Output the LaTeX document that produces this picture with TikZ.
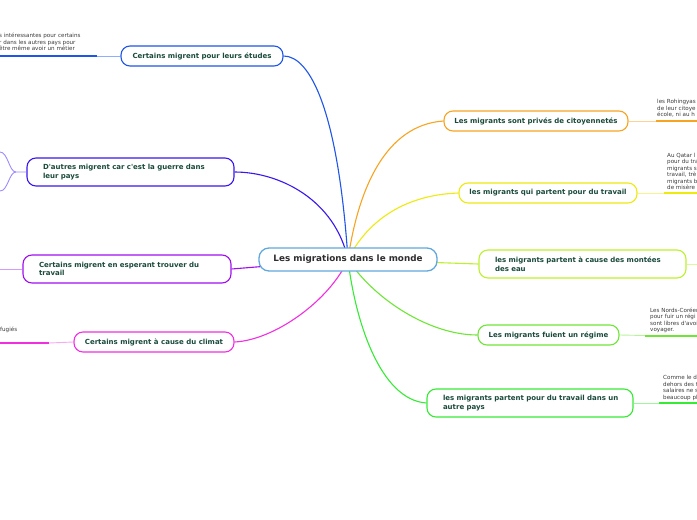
\documentclass[tikz,border=0pt]{standalone}
\usepackage{fontspec}
\setmainfont{DejaVu Sans}[Ligatures=TeXOff]
\usetikzlibrary{backgrounds}
\definecolor{cBlue}{HTML}{1F55E8}
\definecolor{cBlueL}{HTML}{8FAEFF}
\definecolor{cViolet}{HTML}{3A17F0}
\definecolor{cVioletL}{HTML}{9C8CFF}
\definecolor{cPurple}{HTML}{A00DF0}
\definecolor{cPurpleL}{HTML}{D39AFF}
\definecolor{cMag}{HTML}{F030E0}
\definecolor{cMagL}{HTML}{FBA8F2}
\definecolor{cOrange}{HTML}{F7A423}
\definecolor{cOrangeL}{HTML}{FCD295}
\definecolor{cYellow}{HTML}{EEEA10}
\definecolor{cYellowL}{HTML}{F6F48A}
\definecolor{cLime}{HTML}{BDF02E}
\definecolor{cLimeL}{HTML}{DDF79A}
\definecolor{cGreen}{HTML}{6FE637}
\definecolor{cGreenL}{HTML}{B8F39B}
\definecolor{cBright}{HTML}{36EA36}
\definecolor{cBrightL}{HTML}{A0F5A0}
\definecolor{cRoot}{HTML}{62A8DC}
\definecolor{cText}{HTML}{1B4A3C}
\definecolor{cLeaf}{HTML}{3C3C3C}
\tikzset{
  topic/.style={draw, line width=1.1pt, rounded corners=9pt, fill=white, text=cText,
    font=\fontsize{7}{8.6}\selectfont\bfseries, inner ysep=0pt, minimum height=20pt},
  one/.style={topic, inner xsep=0pt, align=center},
  two/.style={topic, inner xsep=16pt, align=left, minimum height=28pt},
  rootbox/.style={draw=cRoot, line width=1.3pt, rounded corners=10pt, fill=white, text=black!82,
    font=\fontsize{8.8}{10}\selectfont\bfseries, minimum width=178pt, minimum height=23pt, inner sep=0pt},
  leaf/.style={inner sep=0pt, anchor=north west, align=left, text=cLeaf,
    font=\fontsize{5.6}{6.5}\selectfont},
  branch/.style={line width=1.1pt},
  thinline/.style={line width=0.9pt},
  under/.style={line width=2pt}
}
\begin{document}
\begin{tikzpicture}[x=1pt,y=-1pt]
\useasboundingbox (0,0) rectangle (697,520);
\clip (0,0) rectangle (697,520);

% root and topics
\node[rootbox] (root) at (348,259.5) {Les migrations dans le monde};
\node[one, draw=cBlue, minimum width=162pt] (study) at (202,56) {Certains migrent pour leurs études};
\node[two, draw=cViolet, text width=175pt] (war) at (130.5,172) {\mbox{D'autres migrent car c'est la guerre dans}\\leur pays};
\node[two, draw=cPurple, text width=176pt] (hope) at (127,269) {\mbox{Certains migrent en esperant trouver du}\\travail};
\node[one, draw=cMag, minimum width=160pt] (clim) at (154,342) {Certains migrent à cause du climat};
\node[one, draw=cOrange, minimum width=184pt] (citi) at (536,121) {Les migrants sont privés de citoyennetés};
\node[one, draw=cYellow, minimum width=178pt] (work) at (548,193) {les migrants qui partent pour du travail};
\node[two, draw=cLime, text width=175pt] (water) at (582.5,264) {\mbox{les migrants partent à cause des montées}\\des eau};
\node[one, draw=cGreen, minimum width=141pt] (regime) at (548.5,335) {Les migrants fuient un régime};
\node[two, draw=cBright, text width=174pt] (abroad) at (530,403) {\mbox{les migrants partent pour du travail dans un}\\autre pays};

% branches from root (behind)
\begin{scope}[on background layer]
\fill[white] (0,0) rectangle (697,520);
\draw[branch, cBlue] (root.center) .. controls (338,110) and (310,56) .. (study.east);
\draw[branch, cViolet] (root.center) .. controls (335,200) and (280,172) .. (war.east);
\draw[branch, cPurple] (root.center) -- (hope.east);
\draw[branch, cMag] (root.center) .. controls (330,300) and (275,340) .. (clim.east);
\draw[branch, cOrange] (root.center) .. controls (358,190) and (385,125) .. (citi.west);
\draw[branch, cYellow] (root.center) .. controls (365,225) and (400,195) .. (work.west);
\draw[branch, cLime] (root.center) -- (water.west);
\draw[branch, cGreen] (root.center) .. controls (375,300) and (430,335) .. (regime.west);
\draw[branch, cBright] (root.center) .. controls (355,320) and (380,400) .. (abroad.west);
\end{scope}

% left leaves
\coordinate (s1) at (97,56); \coordinate (s0) at (-5,56);
\draw[thinline, cBlueL] (study.west) -- (s1);
\draw[under, cBlue] (s1) -- (s0);
\node[leaf] (stxt) at (-1,33.3) {s intéressantes pour certains\\r dans les autres pays pour\\être même avoir un métier};

\coordinate (wj) at (16,172); \coordinate (wa) at (-5,152); \coordinate (wb) at (-5,191);
\draw[thinline, cVioletL] (war.west) -- (wj) .. controls (9,172) and (8,152) .. (0,152) -- (wa);
\draw[thinline, cVioletL] (wj) .. controls (9,172) and (8,191) .. (0,191) -- (wb);

\coordinate (hl) at (-5,269);
\draw[thinline, cPurpleL] (hope.west) -- (hl);

\coordinate (c1) at (49,343); \coordinate (c0) at (-5,343);
\draw[thinline, cMagL] (clim.west) -- (c1);
\draw[under, cMag] (c1) -- (c0);
\node[leaf] (ctxt) at (0,327.3) {fugiés};

% right leaves
\coordinate (o1) at (656,121); \coordinate (o2) at (702,121);
\draw[thinline, cOrangeL] (citi.east) -- (o1);
\draw[under, cOrange] (o1) -- (o2);
\node[leaf] (otxt) at (657,99.1) {les Rohingyas\\de leur citoye\\école, ni au h};

\coordinate (y1) at (664,193); \coordinate (y2) at (702,193);
\draw[thinline, cYellowL] (work.east) -- (y1);
\draw[under, cYellow] (y1) -- (y2);
\node[leaf] (ytxt) at (667,152.6) {Au Qatar l\\pour du tra\\migrants s\\travail, trè\\migrants b\\de misère};

\coordinate (wl) at (702,264);
\draw[thinline, cLimeL] (water.east) -- (wl);

\coordinate (r1) at (645,335.5); \coordinate (r2) at (702,335.5);
\draw[thinline, cGreenL] (regime.east) -- (r1);
\draw[under, cGreen] (r1) -- (r2);
\node[leaf] (rtxt) at (650,307.6) {Les Nords-Coréen\\pour fuir un régi\\sont libres d'avoi\\voyager.};

\coordinate (a1) at (659,403); \coordinate (a2) at (702,403);
\draw[thinline, cBrightL] (abroad.east) -- (a1);
\draw[under, cBright] (a1) -- (a2);
\node[leaf] (atxt) at (663,375.1) {Comme le d\\dehors des t\\salaires ne s\\beaucoup pl};
\end{tikzpicture}
\end{document}
